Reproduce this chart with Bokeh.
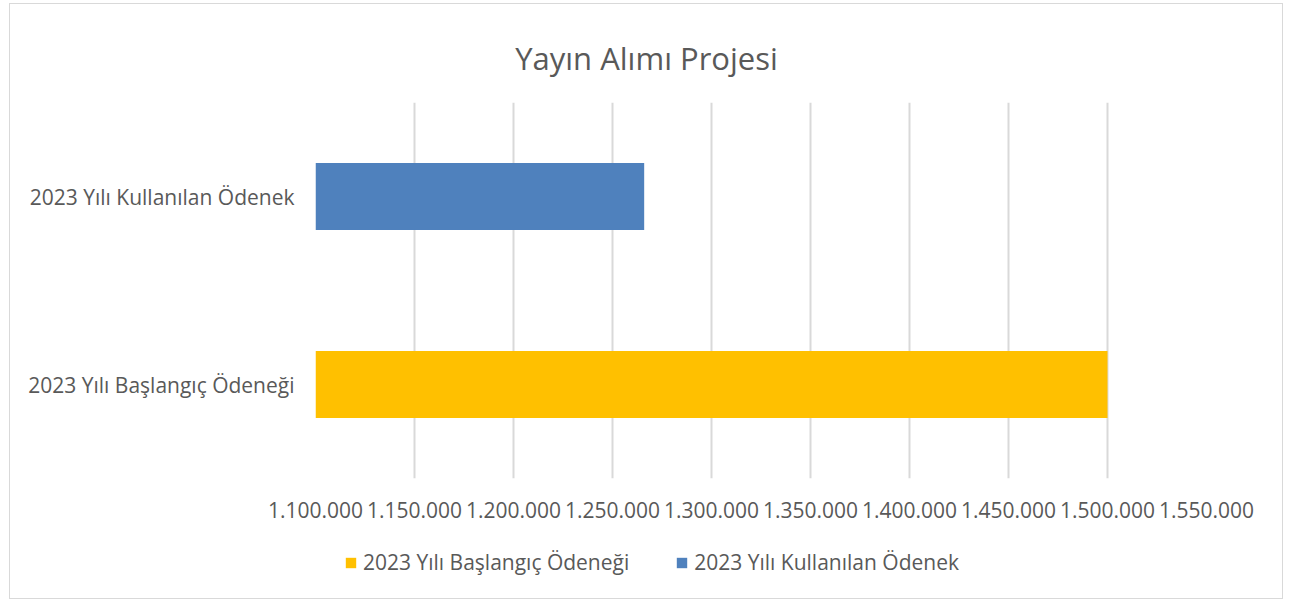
from bokeh.plotting import figure
from bokeh.layouts import column
from bokeh.models import (ColumnDataSource, FactorRange, Range1d, SingleIntervalTicker,
                          CustomJSTickFormatter, Legend, LegendItem, Label)
from bokeh.embed import file_html
from bokeh.resources import INLINE

# ---- data ----
title_text = "Yayın Alımı Projesi"
categories = ["2023 Yılı Başlangıç Ödeneği", "2023 Yılı Kullanılan Ödenek"]
values = [1500000, 1266000]
colors = ["#FFC000", "#4F81BD"]
x_min, x_max, x_step = 1100000, 1550000, 50000

FONT = "Open Sans"
TXT = "#595959"

def strip(height, x_range):
    f = figure(width=1272, height=height, output_backend="svg", toolbar_location=None,
               x_range=x_range, y_range=Range1d(0, 1),
               x_axis_location=None, y_axis_location=None,
               min_border_left=0, min_border_right=0, min_border_top=0, min_border_bottom=0)
    f.grid.visible = False
    f.outline_line_color = None
    f.background_fill_color = "white"
    f.border_fill_color = "white"
    return f

xr = Range1d(x_min, x_max)

# ---- title strip (frame aligned with the chart's frame) ----
pt = strip(98, xr)
title_x = x_min + (x_max - x_min) * (646 - 315) / (1206 - 315)
pt.add_layout(Label(x=title_x, y=0.459, text=title_text, text_font=FONT,
                    text_font_size="31px", text_color=TXT,
                    text_align="center", text_baseline="alphabetic"))

# ---- main chart ----
p = figure(width=1272, height=433, output_backend="svg", toolbar_location=None,
           title=None,
           y_range=FactorRange(*categories, range_padding=0),
           x_range=xr,
           min_border_left=305, min_border_right=76,
           min_border_top=0, min_border_bottom=57)
p.outline_line_color = None
p.background_fill_color = "white"
p.border_fill_color = "white"

for i in range(len(categories)):
    s = ColumnDataSource(dict(cat=[categories[i]], val=[values[i]], left=[x_min]))
    p.hbar(y="cat", left="left", right="val", height=0.356, source=s,
           fill_color=colors[i], line_color=None)

p.xaxis.ticker = SingleIntervalTicker(interval=x_step)
p.xaxis.formatter = CustomJSTickFormatter(
    code="return Math.round(tick).toString().replace(/\\B(?=(\\d{3})+(?!\\d))/g, '.');")
for ax in (p.xaxis, p.yaxis):
    ax.axis_line_color = None
    ax.major_tick_line_color = None
    ax.minor_tick_line_color = None
    ax.major_label_text_font = FONT
    ax.major_label_text_font_size = "21px"
    ax.major_label_text_color = TXT
p.xaxis.major_label_standoff = 17
p.yaxis.major_label_standoff = 15

p.xgrid.grid_line_color = "#d9d9d9"
p.xgrid.grid_line_width = 2
p.xgrid.ticker = SingleIntervalTicker(interval=x_step)
p.ygrid.grid_line_color = None

# ---- legend strip (its frame is aligned with the chart's frame) ----
pl = strip(63, Range1d(0, 1))
items = []
for i in range(len(categories)):
    # proxy renderer for the legend swatch only; zero-height and outside this strip's range
    s = ColumnDataSource(dict(y=[-5], left=[x_min], right=[values[i]]))
    r = pl.hbar(y="y", left="left", right="right", height=0, source=s,
                fill_color=colors[i], line_color=None)
    items.append(LegendItem(label=categories[i], renderers=[r]))

legend = Legend(items=items, orientation="horizontal", location=(29, 22),
                padding=0, margin=0, spacing=46, label_standoff=6,
                glyph_width=13, glyph_height=13,
                label_text_font=FONT, label_text_font_size="21px",
                label_text_color=TXT,
                background_fill_alpha=0, border_line_alpha=0)
pl.add_layout(legend, "center")

layout = column(pt, p, pl, spacing=0, margin=(3, 0, 0, 9))
layout.styles = {"border": "1px solid #d9d9d9"}

open("out.html", "w").write(file_html(layout, INLINE))
